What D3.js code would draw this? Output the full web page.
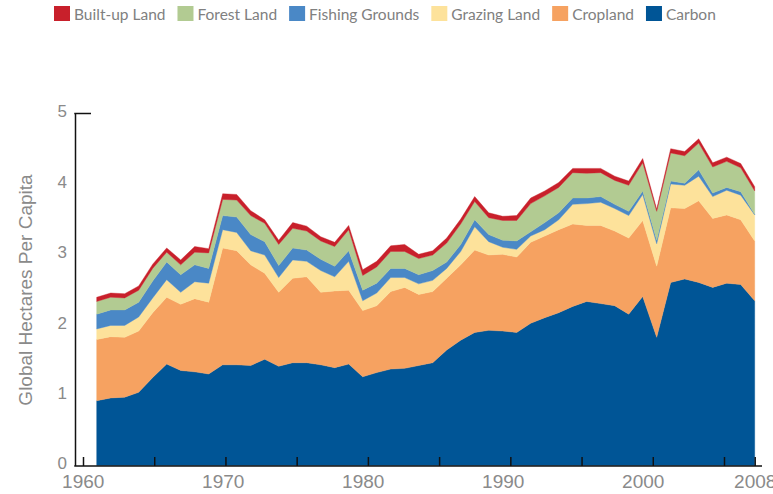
<!DOCTYPE html>
<html>
<head>
<meta charset="utf-8">
<script src="https://cdn.jsdelivr.net/npm/d3@7"></script>
<style>
    body { margin: 0; background: #fff; }
    svg { display: block; }
</style>
</head>
<body>
<div id="chart"></div>
<script>
// footprint per capita, 1961..2008, one value per year and land type
const years = d3.range(1961, 2009);

const carbon = [0.92, 0.96, 0.97, 1.04, 1.25, 1.44, 1.35, 1.33, 1.30, 1.43,
    1.43, 1.42, 1.51, 1.41, 1.46, 1.46, 1.43, 1.39, 1.44, 1.26,
    1.32, 1.37, 1.38, 1.42, 1.46, 1.64, 1.78, 1.89, 1.92, 1.91,
    1.89, 2.02, 2.10, 2.17, 2.26, 2.33, 2.30, 2.27, 2.15, 2.40,
    1.82, 2.60, 2.65, 2.60, 2.53, 2.59, 2.57, 2.34];

const cropland = [0.87, 0.87, 0.85, 0.87, 0.92, 0.95, 0.94, 1.04, 1.02, 1.66,
    1.62, 1.43, 1.22, 1.05, 1.20, 1.22, 1.03, 1.09, 1.05, 0.94,
    0.95, 1.10, 1.15, 1.01, 1.01, 1.02, 1.07, 1.17, 1.07, 1.09,
    1.07, 1.15, 1.16, 1.18, 1.17, 1.08, 1.11, 1.06, 1.08, 1.08,
    1.01, 1.06, 1.00, 1.16, 0.98, 0.97, 0.92, 0.85];

const grazing = [0.15, 0.16, 0.17, 0.20, 0.21, 0.25, 0.17, 0.24, 0.27, 0.26,
    0.26, 0.20, 0.26, 0.21, 0.26, 0.22, 0.31, 0.20, 0.41, 0.14,
    0.18, 0.20, 0.14, 0.15, 0.16, 0.14, 0.19, 0.33, 0.19, 0.10,
    0.11, 0.09, 0.09, 0.14, 0.28, 0.31, 0.33, 0.32, 0.32, 0.37,
    0.32, 0.34, 0.33, 0.35, 0.31, 0.35, 0.35, 0.37];

const fishing = [0.21, 0.22, 0.22, 0.21, 0.24, 0.25, 0.25, 0.24, 0.21, 0.20,
    0.22, 0.23, 0.19, 0.17, 0.17, 0.16, 0.16, 0.15, 0.15, 0.15,
    0.14, 0.13, 0.13, 0.13, 0.14, 0.09, 0.10, 0.10, 0.10, 0.10,
    0.12, 0.06, 0.10, 0.10, 0.09, 0.08, 0.08, 0.06, 0.06, 0.05,
    0.05, 0.04, 0.03, 0.09, 0.05, 0.04, 0.05, 0.01];

const forest = [0.18, 0.18, 0.17, 0.17, 0.18, 0.14, 0.14, 0.18, 0.22, 0.23,
    0.24, 0.27, 0.26, 0.30, 0.28, 0.27, 0.26, 0.28, 0.30, 0.21,
    0.23, 0.24, 0.24, 0.23, 0.22, 0.27, 0.29, 0.26, 0.24, 0.28,
    0.29, 0.40, 0.38, 0.36, 0.36, 0.35, 0.34, 0.34, 0.37, 0.40,
    0.41, 0.40, 0.39, 0.38, 0.37, 0.37, 0.34, 0.33];

const builtUp = [0.06, 0.06, 0.06, 0.06, 0.06, 0.06, 0.07, 0.08, 0.06, 0.08,
    0.08, 0.07, 0.05, 0.06, 0.08, 0.07, 0.06, 0.06, 0.06, 0.08,
    0.08, 0.08, 0.10, 0.06, 0.06, 0.07, 0.07, 0.07, 0.07, 0.06,
    0.07, 0.08, 0.07, 0.07, 0.06, 0.07, 0.06, 0.06, 0.06, 0.06,
    0.03, 0.06, 0.06, 0.06, 0.06, 0.06, 0.06, 0.06];

// bottom to top
const stackKeys = ["Carbon", "Cropland", "Grazing Land", "Fishing Grounds", "Forest Land", "Built-up Land"];
const legendKeys = ["Built-up Land", "Forest Land", "Fishing Grounds", "Grazing Land", "Cropland", "Carbon"];
const yTicks = [0, 1, 2, 3, 4, 5];
const xLabelYears = [1960, 1970, 1980, 1990, 2000, 2008];
const xTickYears = [1960, 1965, 1970, 1975, 1980, 1985, 1990, 1995, 2000, 2005, 2008];

const colors = {
    "Carbon": "#005596",
    "Cropland": "#f6a261",
    "Grazing Land": "#fde29b",
    "Fishing Grounds": "#4a88c6",
    "Forest Land": "#b2cb92",
    "Built-up Land": "#c8202b"
};

const width = 773;
const height = 494;
const axisX = 75;
const baseY = 466;

const table = years.map((yr, i) => ({
    year: yr,
    "Carbon": carbon[i],
    "Cropland": cropland[i],
    "Grazing Land": grazing[i],
    "Fishing Grounds": fishing[i],
    "Forest Land": forest[i],
    "Built-up Land": builtUp[i]
}));

const x = d3.scaleLinear().domain([1960, 2008]).range([82.7, 754.7]);
// tick marks on the original sit on a slightly different spacing than the labels
const xTick = d3.scaleLinear().domain([1960, 2005, 2008]).range([83, 724, 754.7]);
const y = d3.scaleLinear().domain([0, 5]).range([465.5, 113.5]);

const svg = d3.select("#chart")
    .append("svg")
    .attr("width", width)
    .attr("height", height);

const series = d3.stack().keys(stackKeys)(table);

const area = d3.area()
    .x(d => x(d.data.year))
    .y0(d => y(d[0]))
    .y1(d => y(d[1]));

svg.append("g")
    .attr("class", "areas")
    .selectAll("path")
    .data(series)
    .join("path")
    .attr("d", area)
    .attr("fill", d => colors[d.key])
    .attr("stroke", d => colors[d.key])
    .attr("stroke-width", 0.4);

// y axis
const yAxis = d3.axisLeft(y)
    .tickValues(yTicks)
    .tickFormat(d3.format("d"))
    .tickSize(0)
    .tickSizeOuter(0)
    .tickPadding(8);

const gy = svg.append("g")
    .attr("transform", "translate(" + axisX + ",0)")
    .call(yAxis);

gy.select(".domain")
    .attr("stroke", "#111")
    .attr("stroke-width", 1.5);

gy.selectAll("text")
    .attr("dy", "0.2em")
    .attr("font-family", "Liberation Sans, Arial, sans-serif")
    .attr("font-size", 17)
    .attr("fill", "#8a8a8a");

svg.append("line")
    .attr("x1", axisX - 0.75)
    .attr("x2", axisX + 16)
    .attr("y1", y(5))
    .attr("y2", y(5))
    .attr("stroke", "#111")
    .attr("stroke-width", 1.5);

// x axis: labels
const xAxis = d3.axisBottom(x)
    .tickValues(xLabelYears)
    .tickFormat(d3.format("d"))
    .tickSize(0)
    .tickPadding(9);

const gx = svg.append("g")
    .attr("transform", "translate(0," + baseY + ")")
    .call(xAxis);

gx.select(".domain").remove();

gx.selectAll("text")
    .attr("font-family", "Liberation Sans, Arial, sans-serif")
    .attr("font-size", 19)
    .attr("fill", "#8a8a8a");

// x axis: tick marks pointing up
const xMarks = d3.axisTop(xTick)
    .tickValues(xTickYears)
    .tickFormat("")
    .tickSize(9)
    .tickSizeOuter(0);

const gm = svg.append("g")
    .attr("transform", "translate(0," + baseY + ")")
    .call(xMarks);

gm.select(".domain").remove();
gm.selectAll("line")
    .attr("stroke", "#111")
    .attr("stroke-width", 1.5);

svg.append("line")
    .attr("x1", axisX - 0.75)
    .attr("x2", 762)
    .attr("y1", baseY)
    .attr("y2", baseY)
    .attr("stroke", "#111")
    .attr("stroke-width", 1.5);

// y title
svg.append("text")
    .attr("transform", "translate(32,290) rotate(-90)")
    .attr("text-anchor", "middle")
    .attr("font-family", "Liberation Sans, Arial, sans-serif")
    .attr("font-size", 19)
    .attr("fill", "#8a8a8a")
    .text("Global Hectares Per Capita");

// legend
const legend = svg.append("g").attr("class", "legend");
let lx = 54;
legendKeys.forEach(k => {
    legend.append("rect")
        .attr("x", lx)
        .attr("y", 6)
        .attr("width", 16)
        .attr("height", 15)
        .attr("fill", colors[k]);
    const t = legend.append("text")
        .attr("x", lx + 20)
        .attr("y", 19.5)
        .attr("font-family", "Lato, sans-serif")
        .attr("font-size", 15.5)
        .attr("fill", "#808080")
        .text(k);
    lx += 20 + t.node().getComputedTextLength() + 12;
});
</script>
</body>
</html>
